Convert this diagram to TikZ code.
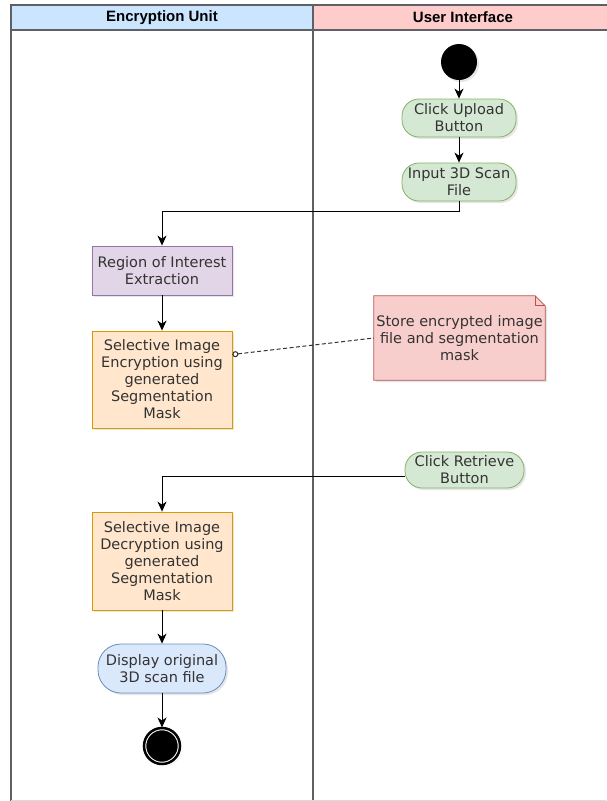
\documentclass[tikz,border=0pt]{standalone}
\usepackage{fontspec}
\setmainfont{DejaVu Sans}
\newfontfamily\headfont{Liberation Sans}
\usetikzlibrary{arrows.meta,shadows,calc}
\definecolor{txt}{HTML}{333333}
\definecolor{frame}{HTML}{5F5F66}
\definecolor{bluefill}{HTML}{CCE5FF}
\definecolor{pinkfill}{HTML}{FFCCCC}
\definecolor{greenfill}{HTML}{D5E8D4}
\definecolor{greenline}{HTML}{82B366}
\definecolor{purplefill}{HTML}{E1D5E7}
\definecolor{purpleline}{HTML}{9673A6}
\definecolor{orangefill}{HTML}{FFE6CC}
\definecolor{orangeline}{HTML}{D79B00}
\definecolor{redfill}{HTML}{F8CECC}
\definecolor{redline}{HTML}{B85450}
\definecolor{lightblue}{HTML}{DAE8FC}
\definecolor{blueline}{HTML}{6C8EBF}
\begin{document}
\begin{tikzpicture}[x=1pt,y=-1pt,
		font=\fontsize{14.5}{17}\selectfont, text=txt,
		shade/.style={drop shadow={opacity=0.2,shadow xshift=2pt,shadow yshift=-2pt}},
		lanehead/.style={draw=frame, line width=1.3pt, minimum height=25pt, inner sep=0pt, font=\headfont\bfseries\fontsize{15}{17}\selectfont, text=black},
		action/.style={draw=greenline, fill=greenfill, line width=0.8pt, align=center, inner sep=1pt, minimum width=114pt, minimum height=38pt, rounded corners=17pt, shade},
		task/.style={rectangle, line width=0.8pt, align=center, inner sep=1pt, minimum width=140pt, shade},
		flow/.style={-{Stealth[length=10pt,width=9pt,inset=3pt]}, line width=1pt, black},
		link/.style={{Circle[open,length=6pt,width=6pt]}-, line width=1pt, dash pattern=on 4pt off 2.5pt, black!80}]
		\useasboundingbox (0,0) rectangle (606,801);
		\node[lanehead, fill=bluefill, minimum width=302pt] (enchead) at (162,17.5) {Encryption Unit};
		\node[lanehead, fill=pinkfill, minimum width=300pt] (uihead) at (463,17.5) {User Interface};
		\draw[frame, line width=1.3pt] (11,30) -- (11,801);
		\draw[frame, line width=1.3pt] (313,30) -- (313,801);
		\draw[black!15, line width=1pt] (11,800) -- (606,800);
		
		\node[circle, fill=black, minimum size=36pt, inner sep=0pt, shade] (start) at (459,62) {};
		\node[action] (upload) at (459,118) {Click Upload\\Button};
		\node[action] (input) at (459,182) {Input 3D Scan\\File};
		\node[task, draw=purpleline, fill=purplefill, minimum height=49pt] (roi) at (162,270.5) {Region of Interest\\Extraction};
		\node[task, draw=orangeline, fill=orangefill, minimum height=97pt] (enc) at (162,379.5) {Selective Image\\Encryption using\\generated\\Segmentation\\Mask};
		\node[inner sep=0pt, minimum width=171pt, minimum height=84pt] (store) at (459.5,338) {};
		\node[action, minimum width=119pt, minimum height=36pt] (retrieve) at (464.5,470) {Click Retrieve\\Button};
		\node[task, draw=orangeline, fill=orangefill, minimum height=98pt] (dec) at (162,561) {Selective Image\\Decryption using\\generated\\Segmentation\\Mask};
		\node[action, draw=blueline, fill=lightblue, minimum width=128pt, minimum height=49pt, rounded corners=23pt] (show) at (162,668.5) {Display original\\3D scan file};
		\node[circle, fill=black, draw=white, line width=1pt, double=black, double distance=2.5pt, minimum size=36pt, inner sep=0pt, shade] (stop) at (162,746) {};
		
		\fill[redfill, shade, draw=redline, line width=0.8pt] (store.north west) -- ($(store.north east)+(-10,0)$) -- ($(store.north east)+(0,10)$) -- (store.south east) -- (store.south west) -- cycle;
		\draw[redline, line width=0.8pt] ($(store.north east)+(-10,0)$) -- ($(store.north east)+(-10,10)$) -- ($(store.north east)+(0,10)$);
		\node[align=center, inner sep=0pt] (storetext) at (store) {Store encrypted image\\file and segmentation\\mask};
		
		\draw[flow] (start) -- (upload);
		\draw[flow] (upload) -- (input);
		\draw[flow] (input.south) -- ++(0,10) -| (roi.north);
		\draw[flow] (roi) -- (enc);
		\draw[link] ([yshift=25pt]enc.east) -- (store.west);
		\draw[flow] ([yshift=-6pt]retrieve.west) -| (dec.north);
		\draw[flow] (dec) -- (show);
		\draw[flow] (show) -- (stop);
\end{tikzpicture}
\end{document}
